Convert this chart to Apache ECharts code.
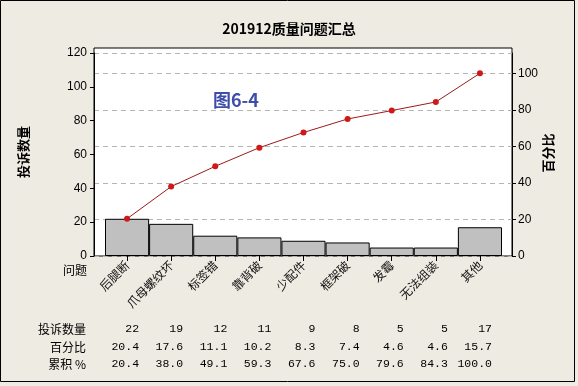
<!DOCTYPE html>
<html><head><meta charset="utf-8">
<script src="https://cdn.jsdelivr.net/npm/echarts@6/dist/echarts.min.js"></script>
<style>html,body{margin:0;padding:0;background:#EEEBE3}#c{width:578px;height:386px}</style>
</head><body><div id="c"></div>
<script>
const chartTitle = '201912质量问题汇总';
const categories = ['后腿断','爪母螺纹坏','标签错','靠背破','少配件','框架破','发霉','无法组装','其他'];
const counts = [22, 19, 12, 11, 9, 8, 5, 5, 17];
const percents = ['20.4','17.6','11.1','10.2','8.3','7.4','4.6','4.6','15.7'];
const cumPercents = [20.4, 38.0, 49.1, 59.3, 67.6, 75.0, 79.6, 84.3, 100.0];
const countTicks = [0, 20, 40, 60, 80, 100, 120];
const pctTicks = [0, 20, 40, 60, 80, 100];
const rowLabels = ['投诉数量', '百分比', '累积 %'];

const total = counts.reduce((a, b) => a + b, 0);
const countMax = countTicks[countTicks.length - 1];
const pctMax = countMax / total * 100;
const gridStep = total * 0.2;

const chart = echarts.init(document.getElementById('c'));
const CJK = '"Noto Sans CJK SC", sans-serif';
const baseGraphic = [
  {type:'rect', shape:{x:0.5, y:0.5, width:574, height:381}, style:{fill:'none', stroke:'#000', lineWidth:1}, silent:true},
  {type:'text', x:213, y:100, style:{text:'图6-4', font:'bold 18px ' + CJK, fill:'#3E4DAA', verticalAlign:'middle'}},
  {type:'text', x:23, y:152, rotation:Math.PI/2, style:{text:'投诉数量', font:'bold 13px ' + CJK, fill:'#000', align:'center', verticalAlign:'middle'}},
  {type:'text', x:548, y:153, rotation:Math.PI/2, style:{text:'百分比', font:'bold 13px ' + CJK, fill:'#000', align:'center', verticalAlign:'middle'}},
  {type:'text', x:63, y:270, style:{text:'问题', font:'12px ' + CJK, fill:'#000', verticalAlign:'middle'}}
];

chart.setOption({
  backgroundColor: '#EEEBE3',
  animation: false,
  title: {text: chartTitle, left: 'center', top: 17, textStyle: {fontSize: 14, fontWeight: 'bold', fontFamily: CJK, color: '#000'}},
  grid: [
    {left: 94, top: 48, width: 418, height: 208, show: true, backgroundColor: '#fff', borderColor: '#000', borderWidth: 1},
    {left: 105, top: 53, width: 397, height: 203},
    {left: 94, top: 53, width: 418, height: 203}
  ],
  xAxis: [
    {gridIndex: 0, type: 'value', show: false, min: 0, max: 1},
    {gridIndex: 1, type: 'category', data: categories, boundaryGap: true,
     axisLine: {show: false},
     axisTick: {show: true, alignWithLabel: true, length: 5, lineStyle: {color: '#000'}},
     axisLabel: {rotate: 45, interval: 0, fontSize: 12, color: '#111', fontFamily: CJK, margin: 7}},
    {gridIndex: 2, type: 'value', show: false, min: 0, max: 1}
  ],
  yAxis: [
    {gridIndex: 0, type: 'value', show: false, min: 0, max: 1},
    {gridIndex: 1, type: 'value', min: 0, max: countMax, interval: 20, position: 'left', offset: 11,
     axisLine: {show: true, lineStyle: {color: '#000'}},
     axisTick: {show: true, length: 4, lineStyle: {color: '#000'}},
     axisLabel: {fontSize: 12, color: '#000', margin: 7, fontFamily: 'Liberation Sans'},
     splitLine: {show: false}},
    {gridIndex: 1, type: 'value', min: 0, max: pctMax, interval: 20, position: 'right', offset: 10,
     axisLine: {show: true, lineStyle: {color: '#000'}},
     axisTick: {show: true, length: 4, lineStyle: {color: '#000'}, customValues: pctTicks},
     axisLabel: {fontSize: 12, color: '#000', margin: 6, fontFamily: 'Liberation Sans', customValues: pctTicks},
     splitLine: {show: false}},
    {gridIndex: 2, type: 'value', min: 0, max: countMax, interval: gridStep,
     axisLine: {show: false}, axisTick: {show: false}, axisLabel: {show: false},
     splitLine: {show: true, lineStyle: {type: [5, 4], color: '#B5B5B5', width: 1}}}
  ],
  series: [
    {type: 'bar', xAxisIndex: 1, yAxisIndex: 1, data: counts, barWidth: '100%', barCategoryGap: 0,
     itemStyle: {color: '#C0C0C0', borderColor: '#000', borderWidth: 1}},
    {type: 'line', xAxisIndex: 1, yAxisIndex: 2, data: cumPercents, symbol: 'circle', symbolSize: 6,
     lineStyle: {color: '#9E1A1A', width: 1}, itemStyle: {color: '#D01818'}, z: 5}
  ],
  graphic: baseGraphic
});

const rowsY = [329, 347, 364];
const rowValues = [counts.map(String), percents, cumPercents.map(v => v.toFixed(1))];
const tableGraphic = [];
rowLabels.forEach((lab, r) => {
  tableGraphic.push({type:'text', x:86, y:rowsY[r], style:{text:lab, font:'12px ' + CJK, fill:'#000', align:'right', verticalAlign:'middle'}});
  rowValues[r].forEach((v, i) => {
    const px = chart.convertToPixel({xAxisIndex: 1}, categories[i]);
    tableGraphic.push({type:'text', x:px + 12, y:rowsY[r], style:{text:v, font:'11.5px "Liberation Mono", monospace', fill:'#000', align:'right', verticalAlign:'middle'}});
  });
});
chart.setOption({graphic: baseGraphic.concat(tableGraphic)});
</script></body></html>
